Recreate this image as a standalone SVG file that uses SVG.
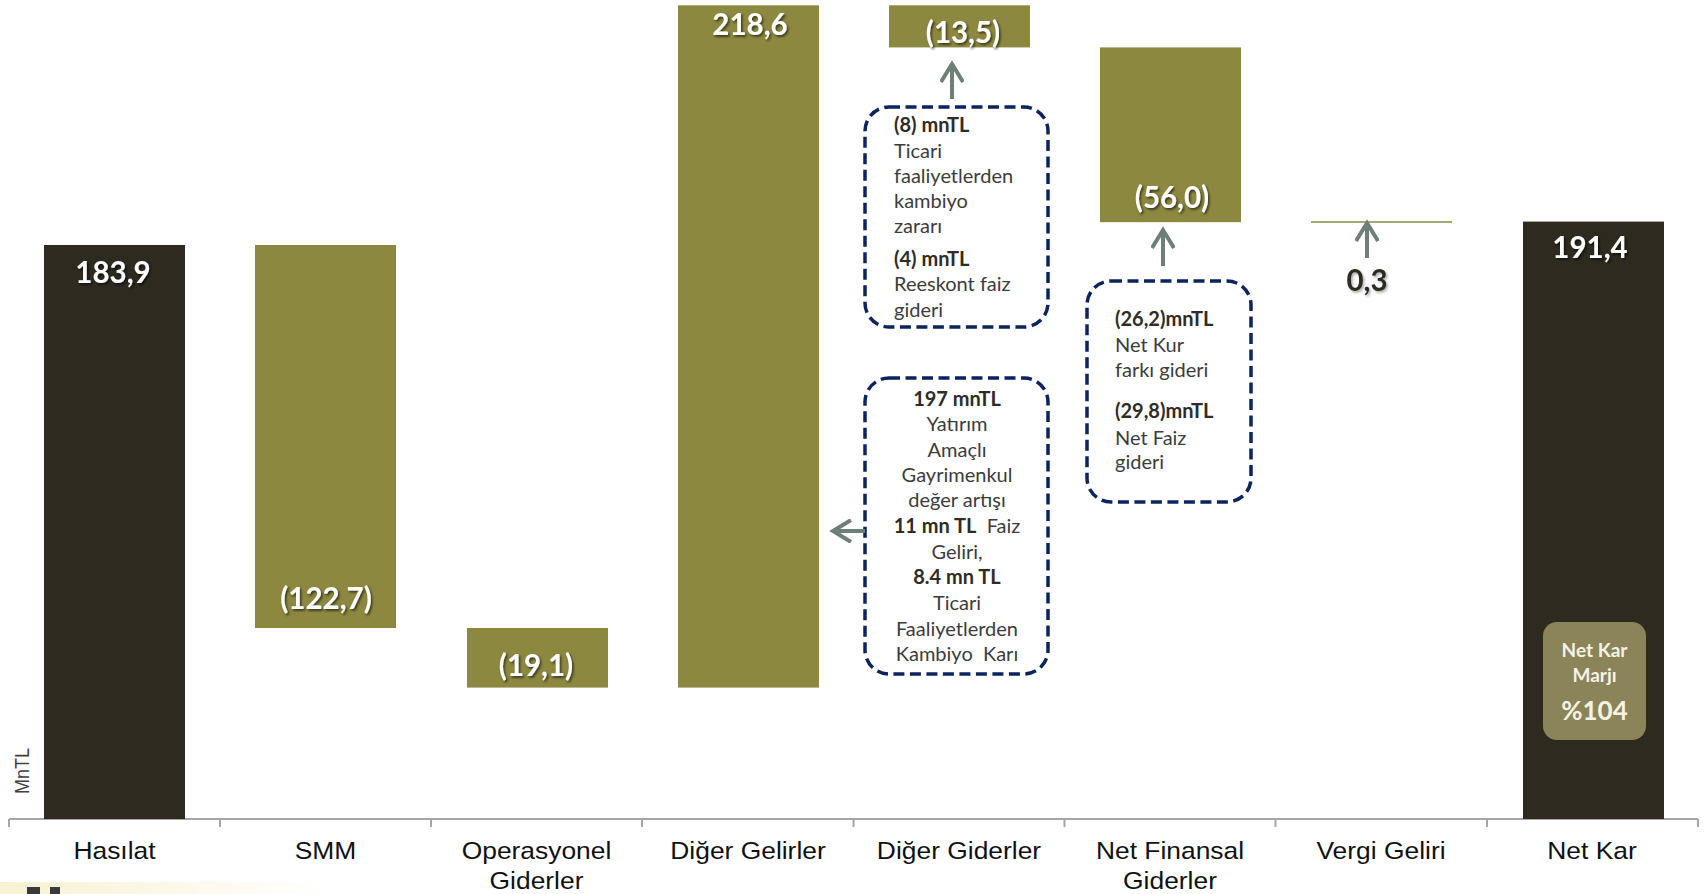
<svg xmlns="http://www.w3.org/2000/svg" width="1706" height="894" viewBox="0 0 1706 894">
<defs>
<style>
.dark{fill:#2e2a20}
.olive{fill:#8c8840}
.val{font-family:Lato,"Open Sans",sans-serif;font-weight:700;font-size:29.5px;fill:#ffffff;text-anchor:middle}
.val3{font-family:Lato,"Open Sans",sans-serif;font-weight:700;font-size:29.5px;fill:#2e2a20;text-anchor:middle}
.cat{font-family:"Liberation Sans",Arial,sans-serif;font-size:24px;fill:#111111;text-anchor:middle}
.box{fill:none;stroke:#0b2460;stroke-width:3.5;stroke-dasharray:11 5.5}
.bt{font-family:Lato,"Open Sans",sans-serif;font-size:20px;fill:#3c3c3c}
.bb{font-weight:700;fill:#2e2c26}
.arr{fill:none;stroke:#6e7f78;stroke-width:4}
.axis{fill:none;stroke:#a6a6a6;stroke-width:2}
.pill{fill:#8a8458}
.pt{font-family:Lato,"Open Sans",sans-serif;font-weight:700;fill:#f6f3e6;text-anchor:middle}
</style>
<filter id="sh" x="-20%" y="-30%" width="140%" height="160%">
<feDropShadow dx="1.5" dy="1.8" stdDeviation="1" flood-color="#000000" flood-opacity="0.6"/>
</filter>
<filter id="sh2" x="-20%" y="-30%" width="140%" height="160%">
<feDropShadow dx="1.5" dy="1.8" stdDeviation="1" flood-color="#777777" flood-opacity="0.6"/>
</filter>
<marker id="chev" viewBox="0 0 24 24" refX="20" refY="12" markerWidth="24" markerHeight="24" markerUnits="userSpaceOnUse" orient="auto">
<path d="M2,1 L20,12 L2,23" fill="none" stroke="#6e7f78" stroke-width="4"/>
</marker>
<linearGradient id="fade" x1="0" y1="0" x2="1" y2="0">
<stop offset="0" stop-color="#f8f1d2"/>
<stop offset="1" stop-color="#ffffff"/>
</linearGradient>
</defs>
<rect width="1706" height="894" fill="#ffffff"/>

<g id="axis">
<path class="axis" d="M9,819 H1698 M9,819 V827 M220,819 V827 M431,819 V827 M642,819 V827 M853.5,819 V827 M1064.5,819 V827 M1275.5,819 V827 M1487,819 V827 M1698,819 V827"/>
<text transform="translate(29,794) rotate(-90) scale(1,1.15)" font-family="Liberation Sans, Arial, sans-serif" font-size="18" fill="#404040">MnTL</text>
</g>

<g id="bar-hasilat">
<rect class="dark" x="44" y="245" width="141" height="574"/>
<text class="val" x="113" y="283" filter="url(#sh)">183,9</text>
<text class="cat" transform="translate(114.5,859) scale(1.1,1)">Hasılat</text>
</g>
<g id="bar-smm">
<rect class="olive" x="255" y="245" width="141" height="383"/>
<text class="val" x="326" y="609" filter="url(#sh)">(122,7)</text>
<text class="cat" transform="translate(325.5,859) scale(1.1,1)">SMM</text>
</g>
<g id="bar-operasyonel">
<rect class="olive" x="467" y="628" width="141" height="59.6"/>
<text class="val" x="536" y="676" filter="url(#sh)">(19,1)</text>
<text class="cat" transform="translate(536.5,859) scale(1.1,1)">Operasyonel</text>
<text class="cat" transform="translate(536.5,889) scale(1.1,1)">Giderler</text>
</g>
<g id="bar-diger-gelirler">
<rect class="olive" x="678" y="5.3" width="141" height="682.3"/>
<text class="val" x="750" y="35" filter="url(#sh)">218,6</text>
<text class="cat" transform="translate(748,859) scale(1.1,1)">Diğer Gelirler</text>
</g>
<g id="bar-diger-giderler">
<rect class="olive" x="889" y="5.3" width="141" height="42.1"/>
<text class="val" x="963" y="43" filter="url(#sh)">(13,5)</text>
<text class="cat" transform="translate(959,859) scale(1.1,1)">Diğer Giderler</text>
</g>
<g id="bar-net-finansal">
<rect class="olive" x="1100" y="47.4" width="141" height="174.8"/>
<text class="val" x="1172" y="208" filter="url(#sh)">(56,0)</text>
<text class="cat" transform="translate(1170,859) scale(1.1,1)">Net Finansal</text>
<text class="cat" transform="translate(1170,889) scale(1.1,1)">Giderler</text>
</g>
<g id="bar-vergi">
<line x1="1311" y1="222" x2="1452" y2="222" stroke="#8c8840" stroke-width="1.5"/>
<text class="val3" x="1367" y="291" filter="url(#sh2)">0,3</text>
<text class="cat" transform="translate(1381,859) scale(1.1,1)">Vergi Geliri</text>
</g>
<g id="bar-net-kar">
<rect class="dark" x="1523" y="221.6" width="141" height="597.4"/>
<text class="val" x="1590" y="258" filter="url(#sh)">191,4</text>
<text class="cat" transform="translate(1592,859) scale(1.1,1)">Net Kar</text>
</g>
<g id="net-kar-marji">
<rect class="pill" x="1543" y="622" width="103" height="118" rx="14"/>
<text class="pt" x="1594.5" y="657" font-size="19">Net Kar</text>
<text class="pt" x="1594.5" y="682" font-size="19">Marjı</text>
<text class="pt" x="1594.5" y="720" font-size="26">%104</text>
</g>

<g id="note-diger-giderler">
<rect class="box" x="865" y="107" width="183" height="220" rx="24"/>
<text class="bt" x="894" y="132"><tspan class="bb">(8) mnTL</tspan></text>
<text class="bt" x="894" y="158">Ticari</text>
<text class="bt" x="894" y="183">faaliyetlerden</text>
<text class="bt" x="894" y="208">kambiyo</text>
<text class="bt" x="894" y="233">zararı</text>
<text class="bt" x="894" y="266"><tspan class="bb">(4) mnTL</tspan></text>
<text class="bt" x="894" y="291">Reeskont faiz</text>
<text class="bt" x="894" y="317">gideri</text>
</g>
<g id="note-diger-gelirler">
<rect class="box" x="865" y="378" width="183" height="296" rx="24"/>
<g text-anchor="middle">
<text class="bt bb" x="957" y="406">197 mnTL</text>
<text class="bt" x="957" y="431">Yatırım</text>
<text class="bt" x="957" y="457">Amaçlı</text>
<text class="bt" x="957" y="482">Gayrimenkul</text>
<text class="bt" x="957" y="507">değer artışı</text>
<text class="bt" x="957" y="533" xml:space="preserve"><tspan class="bb">11 mn TL</tspan>  Faiz</text>
<text class="bt" x="957" y="559">Geliri,</text>
<text class="bt bb" x="957" y="584">8.4 mn TL</text>
<text class="bt" x="957" y="610">Ticari</text>
<text class="bt" x="957" y="636">Faaliyetlerden</text>
<text class="bt" x="957" y="661" xml:space="preserve">Kambiyo  Karı</text>
</g>
</g>
<g id="note-net-finansal">
<rect class="box" x="1087" y="281" width="164" height="221" rx="24"/>
<text class="bt bb" x="1115" y="326">(26,2)mnTL</text>
<text class="bt" x="1115" y="352">Net Kur</text>
<text class="bt" x="1115" y="377">farkı gideri</text>
<text class="bt bb" x="1115" y="418">(29,8)mnTL</text>
<text class="bt" x="1115" y="445">Net Faiz</text>
<text class="bt" x="1115" y="469">gideri</text>
</g>

<g id="connectors">
<line class="arr" x1="952" y1="99" x2="952" y2="64" marker-end="url(#chev)"/>
<line class="arr" x1="865" y1="531" x2="833" y2="531" marker-end="url(#chev)"/>
<line class="arr" x1="1163" y1="266" x2="1163" y2="230" marker-end="url(#chev)"/>
<line class="arr" x1="1367" y1="258" x2="1367" y2="223" marker-end="url(#chev)"/>
</g>

<g id="corner-fragment">
<rect x="0" y="882" width="332" height="12" fill="url(#fade)"/>
<rect x="27" y="887" width="13" height="7" fill="#3a3a3a"/>
<rect x="50" y="887" width="10" height="7" fill="#3a3a3a"/>
</g>
</svg>
